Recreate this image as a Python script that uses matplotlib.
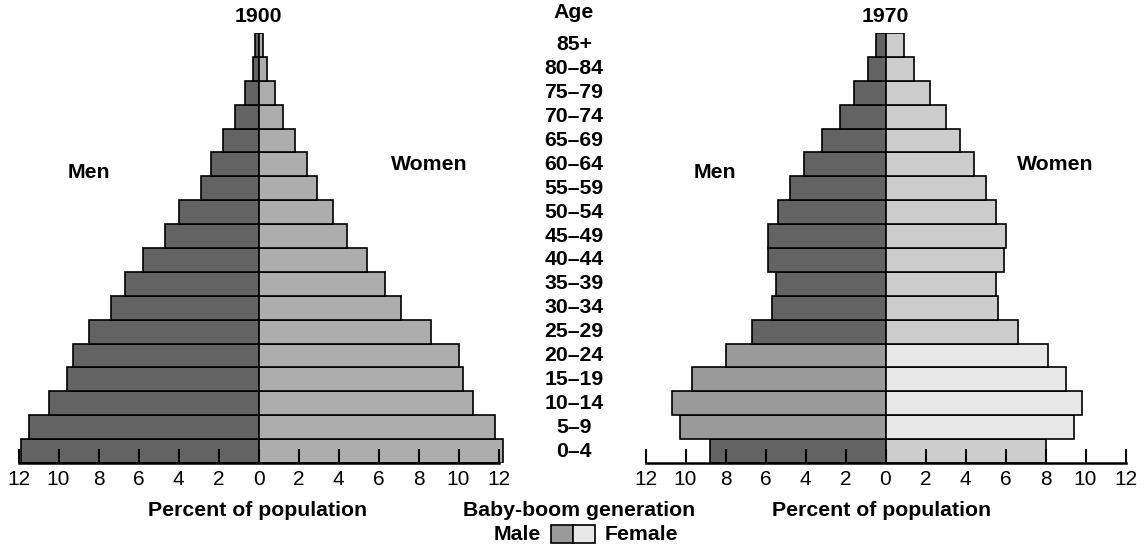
import matplotlib.pyplot as plt
import numpy as np
from matplotlib.patches import Rectangle
from matplotlib.transforms import blended_transform_factory

plt.rcParams['font.family'] = ['Liberation Sans', 'DejaVu Sans']

# age groups, bottom to top
ages = ["0\u20134", "5\u20139", "10\u201314", "15\u201319", "20\u201324", "25\u201329",
        "30\u201334", "35\u201339", "40\u201344", "45\u201349", "50\u201354", "55\u201359",
        "60\u201364", "65\u201369", "70\u201374", "75\u201379", "80\u201384", "85+"]

# percent of population, 1900
men_1900 = [11.9, 11.5, 10.5, 9.6, 9.3, 8.5, 7.4, 6.7, 5.8, 4.7,
            4.0, 2.9, 2.4, 1.8, 1.2, 0.7, 0.3, 0.2]
women_1900 = [12.2, 11.8, 10.7, 10.2, 10.0, 8.6, 7.1, 6.3, 5.4, 4.4,
              3.7, 2.9, 2.4, 1.8, 1.2, 0.8, 0.4, 0.2]

# percent of population, 1970
men_1970 = [8.8, 10.3, 10.7, 9.7, 8.0, 6.7, 5.7, 5.5, 5.9, 5.9,
            5.4, 4.8, 4.1, 3.2, 2.3, 1.6, 0.9, 0.5]
women_1970 = [8.0, 9.4, 9.8, 9.0, 8.1, 6.6, 5.6, 5.5, 5.9, 6.0,
              5.5, 5.0, 4.4, 3.7, 3.0, 2.2, 1.4, 0.9]

# baby-boom generation rows
boom = ["5\u20139", "10\u201314", "15\u201319", "20\u201324"]

xticks = [-12, -10, -8, -6, -4, -2, 0, 2, 4, 6, 8, 10, 12]

W, H = 1145, 546
fig = plt.figure(figsize=(W / 100, H / 100), dpi=100)


def px(x, y):
    return x / W, 1 - y / H


def pyramid(left0, men, women, female_color, mark_boom):
    # left0: pixel of x=0
    ax = fig.add_axes([(left0 - 250) / W, (H - 463) / H, 500 / W, 430 / H])
    y = np.arange(len(ages))
    men_c = ["#9a9a9a" if (mark_boom and a in boom) else "#636363" for a in ages]
    women_c = ["#e8e8e8" if (mark_boom and a in boom) else female_color for a in ages]
    ax.barh(y, [-m for m in men], height=1, color=men_c, edgecolor="black", linewidth=1.2)
    ax.barh(y, women, height=1, color=women_c, edgecolor="black", linewidth=1.2)
    ax.set_xlim(-12.5, 12.5)
    ax.set_ylim(-0.5, len(ages) - 0.5)
    for s in ["top", "left", "right"]:
        ax.spines[s].set_visible(False)
    ax.spines["bottom"].set_bounds(-12, 12)
    ax.spines["bottom"].set_linewidth(1.8)
    ax.spines["bottom"].set_zorder(5)
    ax.set_yticks([])
    ax.set_xticks(xticks)
    ax.set_xticklabels([str(abs(t)) for t in xticks])
    ax.tick_params(axis="x", direction="in", length=10, width=1.5, labelsize=15, pad=5)
    ax.patch.set_alpha(0)
    return ax


ax1 = pyramid(258.5, men_1900, women_1900, "#adadad", False)
ax2 = pyramid(885.5, men_1970, women_1970, "#cccccc", True)

fs = 15.3
bold = dict(fontweight="bold", ha="center", va="center")

fig.text(*px(258, 17), "1900", fontsize=fs, **bold)
fig.text(*px(885, 17), "1970", fontsize=fs, **bold)
fig.text(*px(574, 13), "Age", fontsize=fs, **bold)

fig.text(*px(89, 172), "Men", fontsize=fs, **bold)
fig.text(*px(429, 165), "Women", fontsize=fs, **bold)
fig.text(*px(715, 172), "Men", fontsize=fs, **bold)
fig.text(*px(1055, 165), "Women", fontsize=fs, **bold)

# age labels between the pyramids
tr = blended_transform_factory(fig.transFigure, ax1.transData)
for i, a in enumerate(ages):
    ax1.text(574 / W, i, a, transform=tr, fontsize=fs, clip_on=False, **bold)

fig.text(*px(258, 510), "Percent of population", fontsize=fs, **bold)
fig.text(*px(882, 510), "Percent of population", fontsize=fs, **bold)
fig.text(*px(579, 510), "Baby-boom generation", fontsize=fs, **bold)

# legend
fig.text(*px(541, 534), "Male", fontsize=fs, fontweight="bold", ha="right", va="center")
fig.text(*px(605, 534), "Female", fontsize=fs, fontweight="bold", ha="left", va="center")
x0, y0 = px(551, 543)
bw, bh = 22 / W, 18 / H
fig.patches.append(Rectangle((x0, y0), bw, bh, transform=fig.transFigure,
                             facecolor="#9a9a9a", edgecolor="black", linewidth=1.2))
fig.patches.append(Rectangle((x0 + bw, y0), bw, bh, transform=fig.transFigure,
                             facecolor="#e8e8e8", edgecolor="black", linewidth=1.2))

fig.savefig("out.png", dpi=100)
